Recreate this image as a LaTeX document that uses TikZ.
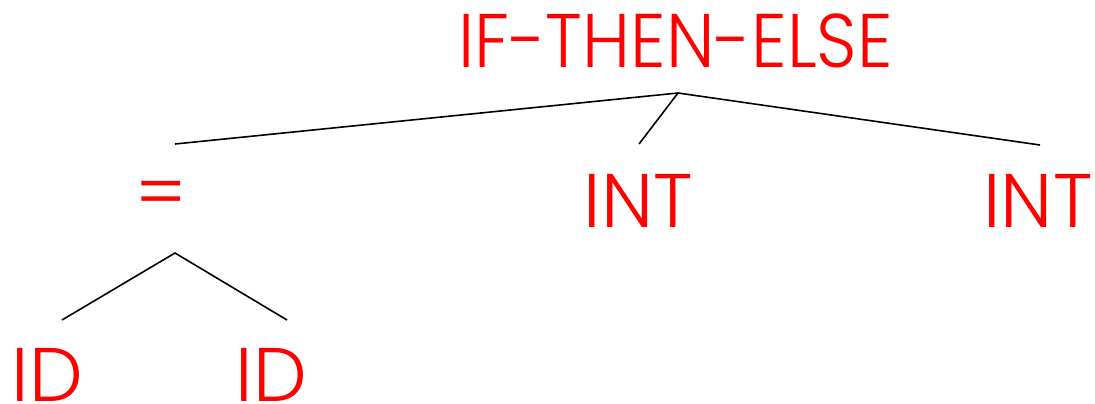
\documentclass[tikz,border=0pt]{standalone}
\usepackage{fontspec}
\setmainfont{Poppins Light}
\definecolor{lbl}{RGB}{255,0,0}
\begin{document}
\begin{tikzpicture}[x=1pt,y=-1pt,
  lab/.style={text=lbl,font=\fontsize{76}{76}\selectfont,inner sep=0pt,anchor=base},
  edge/.style={draw=black,line width=1.6pt}]
\useasboundingbox (0,0) rectangle (1095,404);
\node[lab] (ite) at (675.5,67) {\scalebox{0.93}[1]{IF-THEN-ELSE}};
\node[lab] (int1) at (638.5,227) {INT};
\node[lab] (int2) at (1038,227) {INT};
\node[lab,anchor=center] (eq) at (161,200) {=};
\node[lab] (id1) at (47.5,401) {ID};
\node[lab] (id2) at (271.5,401) {ID};
\coordinate (top) at (678,93);
\coordinate (c1) at (175,144);
\coordinate (c2) at (639,144);
\coordinate (c3) at (1040,145);
\coordinate (eqtop) at (175,253);
\coordinate (d1) at (62,320);
\coordinate (d2) at (287,320);
\draw[edge] (c1) -- (top) -- (c3);
\draw[edge] (top) -- (c2);
\draw[edge] (d1) -- (eqtop) -- (d2);
\end{tikzpicture}
\end{document}
